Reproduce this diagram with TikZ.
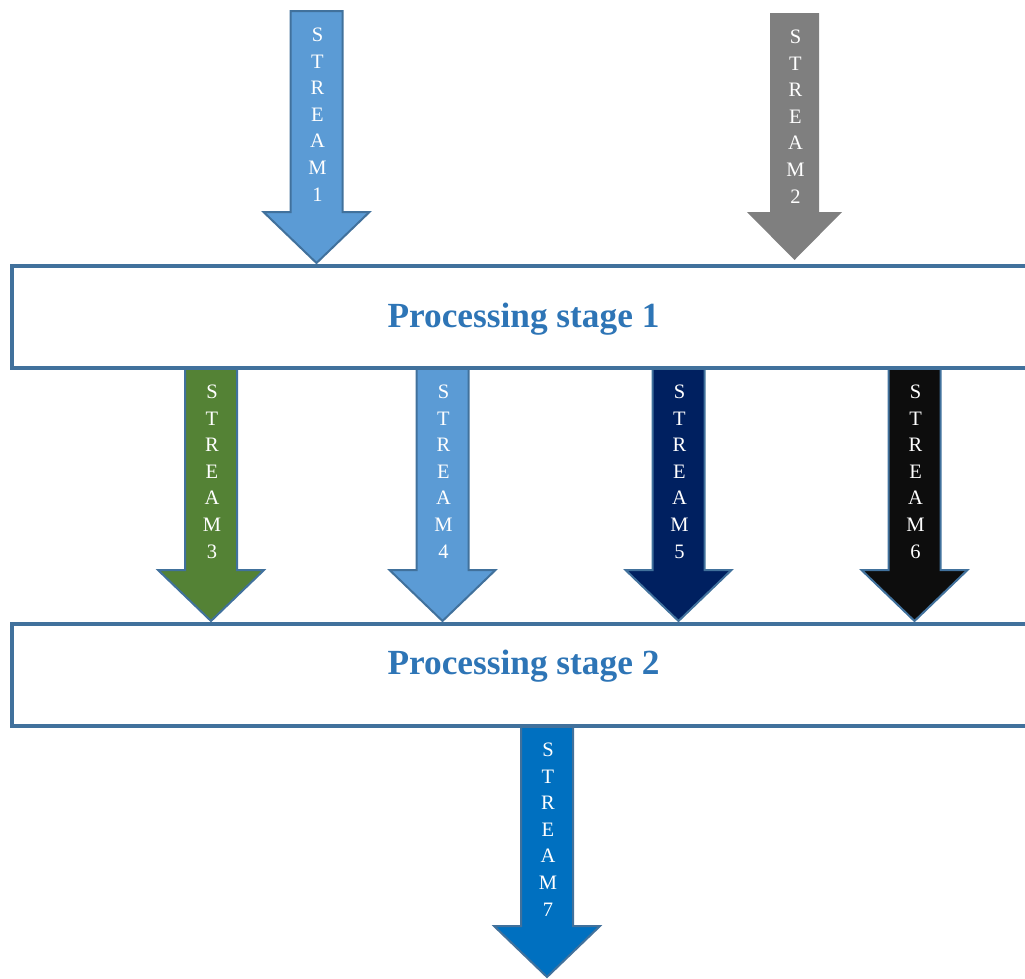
\documentclass[tikz,border=0pt]{standalone}
\usepackage{fontspec}
\setmainfont{Liberation Serif}
\usetikzlibrary{calc,backgrounds}

\definecolor{frameblue}{HTML}{41719C}
\definecolor{titleblue}{HTML}{2E75B6}
\definecolor{streamsky}{HTML}{5B9BD5}
\definecolor{streamgray}{HTML}{7F7F7F}
\definecolor{streamgreen}{HTML}{548235}
\definecolor{streamnavy}{HTML}{002060}
\definecolor{streamblack}{HTML}{0D0D0D}
\definecolor{streamblue}{HTML}{0070C0}

\tikzset{
  stagebox/.style={draw=frameblue, line width=4pt, minimum width=1023pt,
    minimum height=102pt, inner sep=0pt, outer sep=0pt},
  stagetext/.style={text=titleblue, anchor=base, inner sep=0pt,
    font=\fontsize{35.3}{42}\selectfont\bfseries},
  streambody/.style={draw=frameblue, line width=2pt, line join=miter},
  streamlabel/.style={text=white, align=center, anchor=north, inner sep=0pt,
    font=\fontsize{20.5}{26.6}\selectfont}
}

% arrow geometry (half shaft width, half head width, head length)
\def\shaftw{26}
\def\headw{53}
\def\headl{51}

% #1 label name, #2 x of the axis, #3 top point, #4 tip point,
% #5 body style, #6 label text
\newcommand\streamarrow[6]{%
  \path[streambody,#5] let \p1=#3, \p2=#4 in
    (#2pt-\shaftw pt,\y1) -- (#2pt+\shaftw pt,\y1)
    -- (#2pt+\shaftw pt,\y2+\headl pt) -- (#2pt+\headw pt,\y2+\headl pt)
    -- (#2pt,\y2) -- (#2pt-\headw pt,\y2+\headl pt)
    -- (#2pt-\shaftw pt,\y2+\headl pt) -- cycle
    (#2pt+1pt,\y1-16pt) node[streamlabel] (#1) {#6};%
}

\begin{document}
\begin{tikzpicture}[x=1pt,y=-1pt]
  \useasboundingbox (0,0) rectangle (1025,978);

  % processing stages
  \node[stagebox] (s1) at (523.5,317) {};
  \node[stagebox] (s2) at (523.5,675) {};
  \node[stagetext] (t1) at ($(s1.center)+(0,10)$) {Processing stage 1};
  \node[stagetext] (t2) at ($(s2.center)+(0,-1)$) {Processing stage 2};

  % free ends of the incoming and outgoing streams
  \coordinate (in1) at (316.5,11);
  \coordinate (in2) at (794.5,13);
  \coordinate (out7) at (547,977);

  \begin{scope}[on background layer]
    \streamarrow{a1}{316.5}{(in1)}{([yshift=3pt]s1.north)}{fill=streamsky}{S\\T\\R\\E\\A\\M\\1}
    \begingroup
      \def\shaftw{24.5}\def\headw{47.5}\def\headl{48}
      \streamarrow{a2}{794.5}{(in2)}{([yshift=6pt]s1.north)}{draw=none,fill=streamgray}{S\\T\\R\\E\\A\\M\\2}
    \endgroup
    \streamarrow{a3}{211}{(s1.south)}{([yshift=3pt]s2.north)}{fill=streamgreen}{S\\T\\R\\E\\A\\M\\3}
    \streamarrow{a4}{442.5}{(s1.south)}{([yshift=3pt]s2.north)}{fill=streamsky}{S\\T\\R\\E\\A\\M\\4}
    \streamarrow{a5}{678.5}{(s1.south)}{([yshift=3pt]s2.north)}{fill=streamnavy}{S\\T\\R\\E\\A\\M\\5}
    \streamarrow{a6}{914.5}{(s1.south)}{([yshift=3pt]s2.north)}{fill=streamblack}{S\\T\\R\\E\\A\\M\\6}
    \streamarrow{a7}{547}{(s2.south)}{(out7)}{fill=streamblue}{S\\T\\R\\E\\A\\M\\7}
  \end{scope}
\end{tikzpicture}
\end{document}
